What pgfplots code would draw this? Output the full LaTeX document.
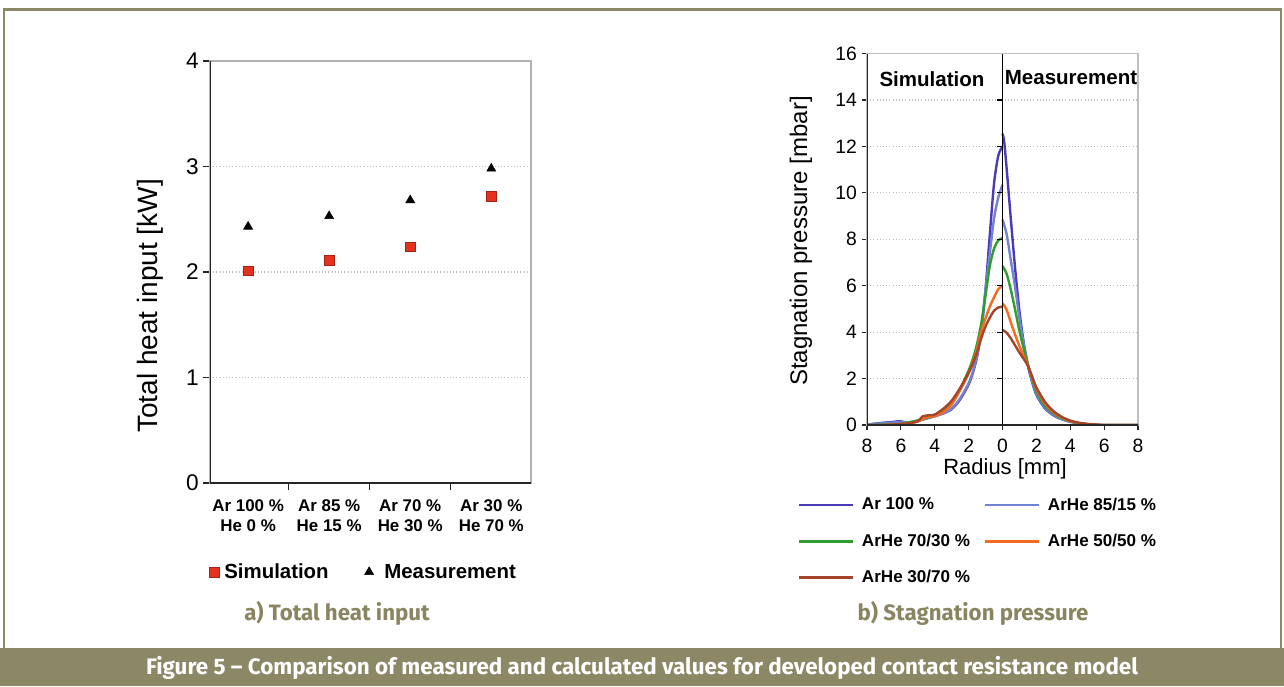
\documentclass[border=0pt]{standalone}
\usepackage{fontspec}
\setmainfont{Liberation Sans}
\newfontfamily\capfont{Fira Sans}
\usepackage{pgfplots}
\pgfplotsset{compat=1.18}
\definecolor{olivebar}{HTML}{8C8866}
\definecolor{olivetxt}{HTML}{8A8560}
\definecolor{simred}{HTML}{E5321E}
\definecolor{cAr}{HTML}{4A3CB8}
\definecolor{cB}{HTML}{7282D2}
\definecolor{cC}{HTML}{2E9E2E}
\definecolor{cD}{HTML}{F26B21}
\definecolor{cE}{HTML}{A4452B}
\begin{document}
\begin{tikzpicture}
\begin{scope}[x=0.75pt,y=-0.75pt]
\path[use as bounding box] (0,0) rectangle (1284,686);
\fill[white] (0,0) rectangle (1284,686);
\fill[olivebar] (0,648) rectangle (1284,686);
\draw[olivebar, line width=2.2pt] (4,650) -- (4,9.5) -- (1281,9.5) -- (1281,650);
\node[white, font=\capfont\bfseries\fontsize{16.8}{18}\selectfont] at (642,668) {Figure 5 – Comparison of measured and calculated values for developed contact resistance model};
\node[olivetxt, font=\capfont\bfseries\fontsize{16.7}{19}\selectfont] at (337,613) {a) Total heat input};
\node[olivetxt, font=\capfont\bfseries\fontsize{16.7}{19}\selectfont] at (973,613) {b) Stagnation pressure};
\node[rotate=90, font=\fontsize{21}{24}\selectfont] at (150,306) {Total heat input [kW]};
\node[rotate=90, font=\fontsize{18}{21}\selectfont] at (801,241) {Stagnation pressure [mbar]};
\node[font=\fontsize{16.5}{19}\selectfont] at (1005,469) {Radius [mm]};
\node[font=\bfseries\fontsize{15.4}{18}\selectfont] at (932,79) {Simulation};
\node[font=\bfseries\fontsize{15.4}{18}\selectfont] at (1071,78) {Measurement};
\end{scope}

% ---------------- left chart
\begin{axis}[
  at={(157.5pt,-362.25pt)}, anchor=south west, scale only axis,
  width=240.75pt, height=316.5pt,
  xmin=-0.47, xmax=3.49, ymin=0, ymax=4,
  axis line style={draw=gray!60, line width=0.8pt},
  xtick pos=bottom, ytick pos=left,
  xtick={0,1,2,3},
  xticklabels={{Ar 100 \%\\He 0 \%},{Ar 85 \%\\He 15 \%},{Ar 70 \%\\He 30 \%},{Ar 30 \%\\He 70 \%}},
  xticklabel style={align=center, font=\bfseries\fontsize{12.7}{15}\selectfont, yshift=-4pt},
  major x tick style={draw=none},
  minor xtick={0.5,1.5,2.5},
  minor x tick style={draw=gray!30!black, line width=0.8pt},
  ytick={0,1,2,3,4},
  y tick style={draw=gray!30!black, line width=0.8pt},
  yticklabel style={font=\fontsize{17}{20}\selectfont},
  tick align=outside, major tick length=5pt, minor tick length=5pt,
  ymajorgrids, grid style={dotted, gray!50, line width=0.8pt},
  /pgf/number format/assume math mode=true,
  legend columns=2,
  legend style={draw=none, fill=none, at={(-0.015,-0.211)}, anchor=west,
    font=\bfseries\fontsize{15.3}{18}\selectfont,
    /tikz/every even column/.append style={column sep=25pt}},
  legend image code/.code={\draw[#1] plot coordinates {(3pt,0pt)};},
]
\addplot[only marks, mark=square*, mark size=3.6pt, mark options={fill=simred, draw=simred!70!black, line width=0.5pt}]
  coordinates {(0,2.01) (1,2.11) (2,2.24) (3,2.72)};
\addlegendentry{\hspace{2pt}Simulation}
\addplot[only marks, mark=triangle*, mark size=3.9pt, mark options={fill=black, draw=black}]
  coordinates {(0,2.43) (1,2.53) (2,2.68) (3,2.98)};
\addlegendentry{\hspace{6pt}Measurement}
\draw[gray!30!black, line width=0.9pt] (rel axis cs:0,1) -- (rel axis cs:0,0) -- (rel axis cs:1,0);
\end{axis}

% ---------------- right chart
\begin{axis}[
  at={(650.25pt,-318.75pt)}, anchor=south west, scale only axis,
  width=203.25pt, height=278.6pt,
  xmin=-8, xmax=8, ymin=0, ymax=16,
  axis line style={draw=gray!50, line width=0.8pt},
  xtick pos=bottom, ytick pos=left,
  xtick={-8,-6,-4,-2,0,2,4,6,8},
  xticklabels={8,6,4,2,0,2,4,6,8},
  ytick={0,2,4,6,8,10,12,14,16},
  tick style={draw=gray!30!black, line width=0.8pt},
  ticklabel style={font=\fontsize{14.5}{17}\selectfont},
  xticklabel style={yshift=-3pt},
  tick align=outside, major tick length=4pt,
  ymajorgrids, grid style={dotted, gray!50, line width=0.8pt},
  /pgf/number format/assume math mode=true,
  legend columns=2,
  legend cell align=left,
  legend style={draw=none, fill=none, at={(-0.27,-0.181)}, anchor=north west,
    font=\bfseries\fontsize{12.8}{15}\selectfont,
    row sep=12.5pt,
    /tikz/every even column/.append style={column sep=8.5pt}},
  legend image code/.code={\draw[#1, line width=1.9pt] (0pt,0pt) -- (40pt,0pt);},
  every axis plot/.append style={line width=1.8pt, no marks, smooth, tension=0.45},
]
\addplot[cAr] coordinates {(-8,0.02) (-7.5,0.06) (-7,0.1) (-6.5,0.13) (-6,0.17) (-5.8,0.1) (-5.5,0.1) (-5,0.18) (-4.5,0.28) (-4,0.38) (-3.5,0.5) (-3,0.68) (-2.5,1.1) (-2,1.75) (-1.75,2.25) (-1.5,2.95) (-1.25,4.05) (-1,5.85) (-0.75,8.2) (-0.5,10.4) (-0.25,11.6) (0,12.0)};
\addlegendentry{\hspace{4pt}Ar 100 \%}
\addplot[cB] coordinates {(-8,0.02) (-7.5,0.05) (-7,0.08) (-6.5,0.1) (-6,0.14) (-5.5,0.12) (-5,0.18) (-4.5,0.28) (-4,0.38) (-3.5,0.5) (-3,0.7) (-2.5,1.15) (-2,1.8) (-1.75,2.3) (-1.5,3.0) (-1.25,4.1) (-1,5.85) (-0.75,7.4) (-0.5,8.9) (-0.25,9.8) (0,10.35)};
\addlegendentry{\hspace{4pt}ArHe 85/15 \%}
\addplot[cC] coordinates {(-8,0) (-7,0.02) (-6,0.05) (-5.5,0.12) (-5,0.2) (-4.5,0.3) (-4,0.42) (-3.5,0.62) (-3,0.95) (-2.5,1.55) (-2,2.35) (-1.75,2.85) (-1.5,3.5) (-1.25,4.4) (-1,5.6) (-0.75,6.85) (-0.5,7.6) (-0.25,7.95) (0,8.05)};
\addlegendentry{\hspace{4pt}ArHe 70/30 \%}
\addplot[cD] coordinates {(-8,0) (-7,0) (-6,0.04) (-5.5,0.08) (-5,0.15) (-4.5,0.32) (-4,0.38) (-3.5,0.55) (-3,0.88) (-2.5,1.5) (-2,2.22) (-1.75,2.7) (-1.5,3.3) (-1.25,4.05) (-1,4.6) (-0.75,5.1) (-0.5,5.5) (-0.25,5.85) (0,6.0)};
\addlegendentry{\hspace{4pt}ArHe 50/50 \%}
\addplot[cE] coordinates {(-8,0) (-7,0) (-6,0.04) (-5.5,0.08) (-5,0.16) (-4.7,0.38) (-4.3,0.42) (-4,0.45) (-3.5,0.7) (-3,1.05) (-2.5,1.6) (-2,2.25) (-1.75,2.65) (-1.5,3.15) (-1.25,3.75) (-1,4.25) (-0.75,4.62) (-0.5,4.92) (-0.25,5.06) (0,5.1)};
\addlegendentry{\hspace{4pt}ArHe 30/70 \%}
% measurement halves
\addplot[cAr, forget plot] coordinates {(0,12.55) (0.1,12.2) (0.25,11.0) (0.5,8.8) (0.75,6.7) (1,4.9) (1.25,3.55) (1.5,2.55) (1.75,1.85) (2,1.3) (2.5,0.72) (3,0.42) (3.5,0.25) (4,0.14) (4.5,0.07) (5,0.03) (5.5,0.01) (6,0) (8,0)};
\addplot[cB, forget plot] coordinates {(0,8.85) (0.25,8.2) (0.5,7.05) (0.75,5.9) (1,4.6) (1.25,3.5) (1.5,2.6) (1.75,1.88) (2,1.35) (2.5,0.76) (3,0.44) (3.5,0.26) (4,0.14) (4.5,0.07) (5,0.03) (5.5,0.01) (6,0) (8,0)};
\addplot[cC, forget plot] coordinates {(0,6.85) (0.25,6.5) (0.5,5.8) (0.75,4.95) (1,4.05) (1.25,3.3) (1.5,2.62) (1.75,2.0) (2,1.45) (2.5,0.84) (3,0.5) (3.5,0.29) (4,0.16) (4.5,0.08) (5,0.03) (5.5,0.01) (6,0) (8,0)};
\addplot[cD, forget plot] coordinates {(0,5.25) (0.25,4.95) (0.5,4.4) (0.75,3.88) (1,3.4) (1.25,2.98) (1.5,2.58) (1.75,2.05) (2,1.55) (2.5,0.93) (3,0.55) (3.5,0.32) (4,0.17) (4.5,0.09) (5,0.04) (5.5,0.01) (6,0) (8,0)};
\addplot[cE, forget plot] coordinates {(0,4.1) (0.25,3.97) (0.5,3.72) (0.75,3.42) (1,3.12) (1.25,2.85) (1.5,2.55) (1.75,2.08) (2,1.62) (2.5,1.0) (3,0.6) (3.5,0.35) (4,0.19) (4.5,0.1) (5,0.05) (5.5,0.02) (6,0) (8,0)};
\draw[black, line width=1.1pt] (axis cs:0,0) -- (axis cs:0,16);
\pgfplotsinvokeforeach{2,4,6,8,10,12,14}{\draw[black, line width=0.8pt] (axis cs:0,#1) -- ++(-4pt,0pt);}
\draw[gray!30!black, line width=0.9pt] (rel axis cs:0,1) -- (rel axis cs:0,0) -- (rel axis cs:1,0);
\end{axis}
\end{tikzpicture}
\end{document}
